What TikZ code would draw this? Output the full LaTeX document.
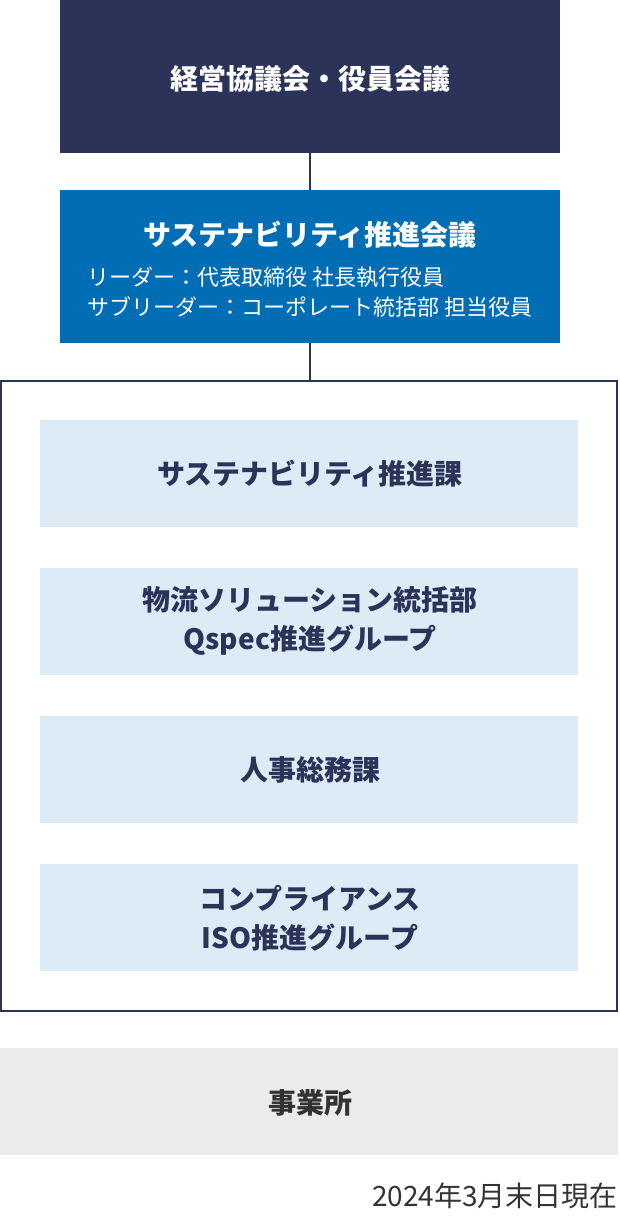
\documentclass[tikz,border=0pt]{standalone}
\usepackage{fontspec}
\setmainfont{Noto Sans CJK JP}
\newfontfamily\jpt{Noto Sans CJK JP}
\newfontfamily\jps{Noto Sans CJK JP}
\newfontfamily\jpd{Noto Sans CJK JP}
\definecolor{navy}{HTML}{2B3359}
\definecolor{cblue}{HTML}{016DB4}
\definecolor{lblue}{HTML}{DCEBF6}
\definecolor{lgray}{HTML}{EBEBEB}
\definecolor{dgray}{HTML}{333333}
\tikzset{
  title/.style={inner sep=0pt, align=center, font=\jpt\bfseries\fontsize{28}{39}\selectfont},
  small/.style={inner sep=0pt, anchor=west, text=white, font=\jps\fontsize{22}{30}\selectfont},
  link/.style={draw=navy, line width=1.5pt},
}
\begin{document}
\begin{tikzpicture}[x=1pt,y=-1pt]
\useasboundingbox (0,0) rectangle (620,1216);
% top box
\fill[navy] (60,0) rectangle (560,153);
\node[title, text=white] (top) at (310,79) {経営協議会・役員会議};
% blue box
\fill[cblue] (60,190) rectangle (560,343);
\node[title, text=white] (sus) at (310,235) {サステナビリティ推進会議};
\node[small] (lead) at (87,277) {リーダー：代表取締役 社長執行役員};
\node[small] (sub) at (87,307) {サブリーダー：コーポレート統括部 担当役員};
\coordinate (topb) at (310,153);
\coordinate (blt) at (310,190);
\coordinate (blb) at (310,343);
\coordinate (frt) at (310,381);
\draw[link] (topb) -- (blt);
\draw[link] (blb) -- (frt);
% frame
\draw[navy, line width=2pt] (1,381) rectangle (617,1011);
\fill[lblue] (40,420) rectangle (578,527);
\fill[lblue] (40,568) rectangle (578,675);
\fill[lblue] (40,716) rectangle (578,823);
\fill[lblue] (40,864) rectangle (578,971);
\node[title, text=navy] (b1) at (310,474) {サステナビリティ推進課};
\node[title, text=navy] (b2) at (310,621) {物流ソリューション統括部\\Qspec推進グループ};
\node[title, text=navy] (b3) at (310,770) {人事総務課};
\node[title, text=navy] (b4) at (310,918) {コンプライアンス\\ISO推進グループ};
% gray box
\fill[lgray] (0,1048) rectangle (618,1155);
\node[title, text=dgray] (jg) at (310,1103) {事業所};
\node[inner sep=0pt, anchor=east, text=dgray, font=\jpd\fontsize{28}{30}\selectfont] (date) at (618,1195.5) {2024年3月末日現在};
\end{tikzpicture}
\end{document}
